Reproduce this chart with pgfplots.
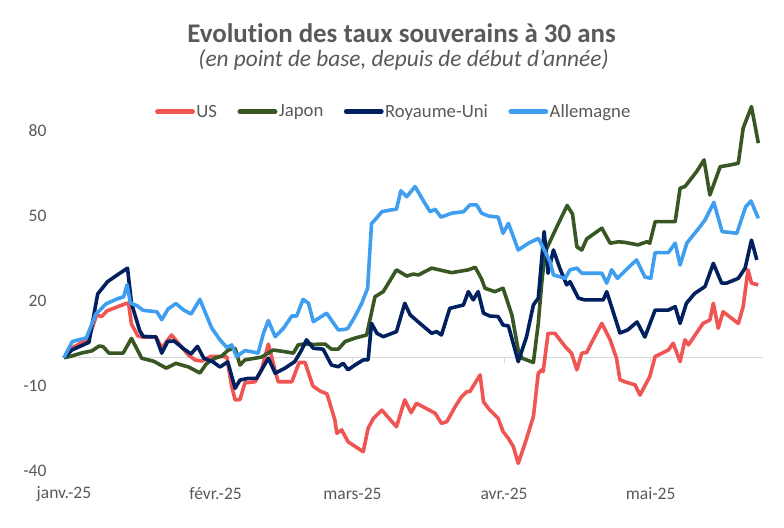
\documentclass[border=0pt]{standalone}
\usepackage{fontspec}
\setmainfont{Carlito}[Ligatures=NoCommon]
\usepackage{pgfplots}
\usepackage{pgfplotstable}
\pgfplotsset{compat=1.18}
\definecolor{us}{RGB}{239,85,82}
\definecolor{jp}{RGB}{56,87,35}
\definecolor{uk}{RGB}{0,32,96}
\definecolor{de}{RGB}{64,158,240}
\definecolor{txt}{RGB}{89,89,89}
\definecolor{zl}{RGB}{217,217,217}

\pgfplotstableread{
d v
0 0
1.6 3.4
5.0 6.6
6.7 15.1
7.7 14.5
8.8 16.5
12.5 19.0
13.2 19.3
13.8 11.9
15.1 7.7
16.2 7.2
18.8 7.4
20.0 3.4
22.0 8.0
23.4 5.1
25.4 1.0
26.8 -0.8
28.2 -1.2
29.9 0.4
31.9 0.4
33.3 0.3
34.3 -10.2
35.0 -14.9
36.0 -14.8
37.0 -8.9
39.1 -8.5
40.4 -4.3
41.8 4.8
42.9 -2.6
43.8 -8.5
46.6 -8.5
48.1 -1.7
49.3 -1.7
50.9 -10.0
52.4 -11.8
53.8 -12.8
55.4 -22.0
55.8 -26.7
56.8 -25.5
58.1 -29.7
61.2 -33.2
62.2 -24.9
63.3 -21.4
65.0 -18.5
68.0 -24.4
69.7 -14.9
71.0 -19.4
72.1 -16.1
75.9 -19.6
77.2 -23.2
78.3 -22.6
80.0 -17.3
81.3 -13.8
82.4 -12.0
83.0 -12.0
85.1 -6.1
85.8 -15.6
87.1 -18.5
88.8 -21.4
89.8 -26.1
90.9 -28.5
91.9 -31.4
92.9 -37.3
94.3 -30.2
96.0 -20.8
97.0 -5.5
97.7 -4.3
98.0 -4.9
99.0 8.6
100.4 8.6
102.5 3.9
103.8 1.6
104.9 -4.3
105.9 1.6
106.9 1.8
108.2 6.3
110.0 12.1
111.7 6.3
113.0 -0.2
113.7 -7.8
114.7 -8.5
116.8 -9.6
117.8 -13.2
119.8 -6.7
120.9 0.4
123.6 2.7
124.6 5.1
126.0 -1.4
127.0 6.3
127.7 4.5
130.7 12.1
132.1 13.3
132.8 19.2
133.8 10.4
134.8 16.2
137.9 12.1
138.9 18.0
139.9 31.0
140.6 26.3
142.0 25.7
}\US

\pgfplotstableread{
d v
0 0
1.2 0.4
3.5 1.6
5.7 2.4
7.2 4.1
8.0 3.9
9.2 1.6
12.1 1.6
13.8 6.8
15.9 -0.2
18.4 -1.3
20.9 -3.7
22.9 -2.0
25.5 -3.3
27.8 -5.4
29.2 -2.0
30.9 -0.2
32.3 0.6
33.6 2.7
35.0 3.3
36.0 -2.6
37.0 -0.8
40.4 0.2
42.8 2.7
45.2 2.1
46.9 1.6
47.9 4.5
48.9 4.8
51.3 4.7
53.4 4.8
54.7 3.0
56.1 3.0
57.5 5.7
59.5 6.9
61.9 8.0
63.6 21.5
65.3 23.3
68.0 31.0
70.1 28.8
71.4 29.5
72.5 29.2
75.2 31.6
79.3 30.0
82.7 31.0
84.1 31.9
85.4 27.8
86.1 24.5
88.1 23.3
89.8 24.5
91.6 15.1
92.9 2.7
93.7 -0.2
96.0 -1.7
97.0 12.1
97.7 26.3
98.4 37.3
100.8 46.2
102.9 53.7
104.0 50.7
104.9 39.1
105.9 38.0
106.9 41.9
110.0 45.7
111.7 40.4
113.4 40.9
114.7 40.7
117.4 39.8
119.2 40.9
119.8 40.4
120.9 48.0
125.0 48.0
126.0 59.8
127.0 60.4
129.4 65.7
130.9 69.8
132.1 57.4
134.2 67.4
136.2 68.0
137.9 68.6
138.9 81.0
140.6 88.6
142.0 75.7
}\JP

\pgfplotstableread{
d v
0 0
1.6 2.7
5.1 5.4
6.9 22.5
8.9 26.8
10.9 29.2
13.0 31.6
13.8 19.2
15.5 9.5
16.2 7.5
18.8 7.3
20.0 1.6
21.2 5.7
22.5 5.9
24.5 3.1
26.0 1.3
27.3 4.0
28.6 -0.2
30.4 -1.4
31.9 -3.3
33.5 -1.5
35.0 -10.8
36.0 -7.9
37.7 -7.3
39.4 -7.3
41.8 -0.2
43.2 -5.5
45.2 -3.7
47.2 -1.4
48.6 2.7
49.6 6.3
51.0 3.3
53.0 3.0
54.7 -2.6
56.1 -3.2
57.1 -2.0
58.1 -4.3
59.5 -2.6
61.2 -0.8
62.2 -0.8
62.9 12.1
64.0 8.6
65.3 7.4
68.0 9.2
69.7 19.2
70.8 15.1
72.8 12.1
75.2 8.6
76.2 9.2
77.2 8.0
78.9 17.4
81.7 18.6
82.7 23.3
83.7 20.4
84.7 23.3
85.8 15.7
87.1 14.7
88.8 14.5
89.8 11.5
90.9 11.2
92.9 -1.4
94.6 7.4
96.0 18.6
97.0 21.0
98.2 44.5
99.0 29.8
100.1 38.0
101.4 31.6
102.8 25.7
103.5 26.8
105.2 21.0
106.5 20.4
110.3 20.4
111.0 23.3
113.7 8.7
115.3 9.8
117.2 12.6
118.8 7.3
120.9 16.8
123.6 16.8
125.0 18.0
126.0 12.1
127.3 19.2
129.0 22.7
131.1 25.1
132.8 33.3
134.5 26.3
135.5 26.3
137.9 28.0
139.3 31.6
140.6 41.5
141.7 34.5
}\UK

\pgfplotstableread{
d v
0 0
1.7 5.7
4.6 7.0
6.5 15.4
7.2 16.5
8.6 19.0
10.8 20.7
12.2 21.5
12.9 25.7
13.6 19.2
14.9 18.4
16.2 16.7
19.0 16.2
20.0 13.4
21.3 17.2
22.9 19.1
24.5 16.8
26.0 15.4
27.8 20.6
29.1 15.1
30.2 10.5
31.9 6.3
33.3 3.6
34.3 4.5
35.3 0.4
37.0 2.5
38.4 2.1
39.7 1.6
40.8 8.6
41.8 13.1
43.2 7.4
44.9 10.4
46.6 14.7
47.6 14.7
48.9 20.6
50.0 19.2
51.0 12.7
53.7 15.7
56.1 9.8
57.5 10.0
58.1 10.4
59.5 14.5
60.9 19.2
62.1 24.5
62.9 47.4
63.6 48.6
65.0 51.5
66.7 52.1
68.0 52.4
68.9 58.9
70.1 56.8
71.8 60.4
73.8 54.5
74.9 51.5
75.9 52.4
77.1 49.6
79.3 51.0
81.7 51.5
83.0 53.9
84.4 53.9
85.4 51.0
86.8 50.0
88.8 49.6
89.8 43.9
90.9 47.4
92.9 38.0
95.0 40.4
97.0 42.1
98.4 37.4
99.4 33.9
100.1 29.2
102.5 28.0
103.5 31.0
104.9 31.6
105.9 29.8
110.0 29.8
111.0 26.3
112.0 31.0
113.2 28.0
114.7 30.6
117.1 34.5
118.8 28.5
120.0 28.0
120.9 37.1
123.6 37.1
125.0 40.4
126.0 32.7
127.4 40.5
129.7 45.4
131.1 48.6
132.9 54.8
134.6 44.5
137.6 43.9
139.4 53.2
140.5 55.3
142.0 49.2
}\DE

\begin{document}
\begin{tikzpicture}
\path[use as bounding box] (-62.5bp,-57bp) rectangle (721.5bp,471bp);
\node[font=\bfseries\fontsize{27}{32}\selectfont, text=txt, anchor=base, inner sep=0pt] at (339bp,428bp) {Evolution des taux souverains à 30 ans};
\node[font=\itshape\fontsize{23.4}{28}\selectfont, text=txt, anchor=base, inner sep=0pt] at (341bp,404bp) {(en point de base, depuis de début d'année)};
\begin{axis}[
  at={(0,0)}, anchor=south west,
  scale only axis, width=700.7bp, height=374bp,
  xmin=-0.3, xmax=143, ymin=-40, ymax=92,
  axis line style={draw=none},
  tick style={draw=none},
  xtick={0,31,59,90,120},
  xticklabels={janv.-25,févr.-25,mars-25,avr.-25,mai-25},
  ytick={-40,-10,20,50,80},
  /pgf/number format/assume math mode=true,
  ticklabel style={font=\fontsize{17.6}{21}\selectfont, text=txt},
  yticklabel style={anchor=east, inner sep=0pt, xshift=-15.8bp},
  xticklabel style={anchor=center, inner sep=0pt, yshift=-23bp},
  legend columns=4,
  legend style={draw=none, fill=none, at={(0.4724,0.9607)}, anchor=center,
    font=\fontsize{18.8}{22}\selectfont, text=txt,
    nodes={inner xsep=1.5bp},
    /tikz/every odd column/.append style={column sep=0bp},
    /tikz/every even column/.append style={column sep=19bp}},
  legend image code/.code={\draw[#1, line width=4.8bp, line cap=round] (2bp,0bp) -- (37bp,0bp);},
  every axis plot/.append style={line width=3.6bp, line join=round},
  clip=false,
]
\draw[zl, line width=1.3bp] (axis cs:-0.3,0) -- (axis cs:143,0);
\draw[zl, line width=1bp] (axis cs:31,0) -- ++(0bp,-5bp);
\draw[zl, line width=1bp] (axis cs:59,0) -- ++(0bp,-5bp);
\draw[zl, line width=1bp] (axis cs:90,0) -- ++(0bp,-5bp);
\draw[zl, line width=1bp] (axis cs:120,0) -- ++(0bp,-5bp);
\addplot[us] table[x=d,y=v] {\US};
\addlegendentry{US}
\addplot[jp] table[x=d,y=v] {\JP};
\addlegendentry{Japon}
\addplot[uk] table[x=d,y=v] {\UK};
\addlegendentry{Royaume-Uni}
\addplot[de] table[x=d,y=v] {\DE};
\addlegendentry{Allemagne}
\end{axis}
\end{tikzpicture}
\end{document}
